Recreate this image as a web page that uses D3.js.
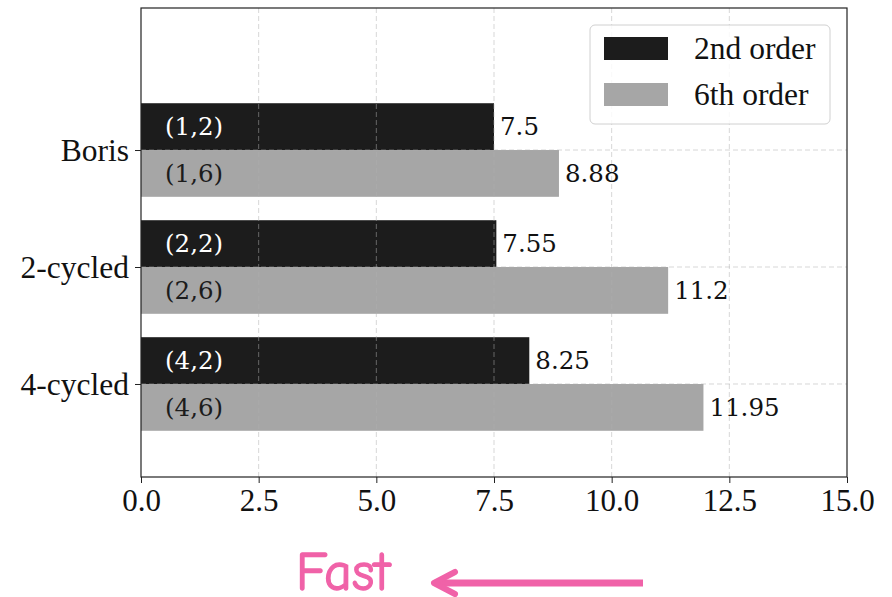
<!DOCTYPE html>
<html>
<head>
<meta charset="utf-8">
<script src="https://cdn.jsdelivr.net/npm/d3@7"></script>
<style>
  html, body { margin: 0; padding: 0; background: #fff; }
  svg { display: block; }
</style>
</head>
<body>
<svg id="chart" width="892" height="597"></svg>
<script>
// Speed-up factors per integrator and order
const categories = ["Boris", "2-cycled", "4-cycled"];
const seriesNames = ["2nd order", "6th order"];
const secondOrder = [7.5, 7.55, 8.25];
const sixthOrder = [8.88, 11.2, 11.95];
const secondTags = ["(1,2)", "(2,2)", "(4,2)"];
const sixthTags = ["(1,6)", "(2,6)", "(4,6)"];
const xTicks = [0, 2.5, 5, 7.5, 10, 12.5, 15];
const colors = ["#1c1c1c", "#a6a6a6"];

const svg = d3.select("#chart");
const plotL = 141, plotR = 847, plotT = 8, plotB = 477;
const serif = "'Liberation Serif', 'Times New Roman', serif";
const dejaSerif = "'DejaVu Serif', serif";

const x = d3.scaleLinear().domain([0, 15]).range([plotL, plotR]);
// category index -> vertical position (axis runs downward)
const y = d3.scaleLinear().domain([-1.214, 2.795]).range([plotT, plotB]);
const barH = 0.4;

const bars = [];
categories.forEach((c, i) => {
  bars.push({ i, s: 0, v: secondOrder[i], tag: secondTags[i] });
  bars.push({ i, s: 1, v: sixthOrder[i], tag: sixthTags[i] });
});

svg.append("g").selectAll("rect").data(bars).join("rect")
  .attr("x", x(0))
  .attr("y", d => y(d.i + (d.s === 0 ? -barH : 0)))
  .attr("width", d => x(d.v) - x(0))
  .attr("height", d => y(d.i + barH) - y(d.i))
  .attr("fill", d => colors[d.s]);

// dashed grid over the bars
const grid = svg.append("g")
  .attr("stroke", "#b0b0b0")
  .attr("stroke-opacity", 0.5)
  .attr("stroke-width", 1)
  .attr("stroke-dasharray", "5,3");
grid.selectAll("line.v").data(xTicks.slice(1, -1)).join("line")
  .attr("x1", d => x(d)).attr("x2", d => x(d))
  .attr("y1", plotT).attr("y2", plotB);
grid.selectAll("line.h").data(categories.map((c, i) => i)).join("line")
  .attr("x1", plotL).attr("x2", plotR)
  .attr("y1", d => y(d)).attr("y2", d => y(d));

// tags inside the bars
svg.append("g").selectAll("text").data(bars).join("text")
  .attr("x", x(0) + 24)
  .attr("y", d => y(d.i + (d.s === 0 ? -barH / 2 : barH / 2)))
  .attr("dy", "0.36em")
  .attr("font-family", dejaSerif)
  .attr("font-size", 24.5)
  .attr("fill", d => d.s === 0 ? "#ffffff" : "#1c1c1c")
  .text(d => d.tag);

// value labels
svg.append("g").selectAll("text").data(bars).join("text")
  .attr("x", d => x(d.v) + 6)
  .attr("y", d => y(d.i + (d.s === 0 ? -barH / 2 : barH / 2)))
  .attr("dy", "0.36em")
  .attr("font-family", dejaSerif)
  .attr("font-size", 24.5)
  .attr("fill", "#111")
  .text(d => d.v);

// frame
svg.append("rect")
  .attr("x", plotL).attr("y", plotT)
  .attr("width", plotR - plotL).attr("height", plotB - plotT)
  .attr("fill", "none").attr("stroke", "#222").attr("stroke-width", 1.2);

// x axis
const xAxis = d3.axisBottom(x).tickValues(xTicks).tickFormat(d3.format(".1f")).tickSizeOuter(0).tickSize(6);
const gx = svg.append("g").attr("transform", `translate(0,${plotB})`).call(xAxis);
gx.select(".domain").remove();
gx.selectAll("line").attr("stroke", "#222");
gx.selectAll("text")
  .attr("font-family", serif).attr("font-size", 31).attr("fill", "#111")
  .attr("y", 34).attr("dy", 0);

// y axis
const yAxis = d3.axisLeft(y).tickValues(categories.map((c, i) => i))
  .tickFormat(i => categories[i]).tickSize(6);
const gy = svg.append("g").attr("transform", `translate(${plotL},0)`).call(yAxis);
gy.select(".domain").remove();
gy.selectAll("line").attr("stroke", "#222");
gy.selectAll("text")
  .attr("font-family", serif).attr("font-size", 31.5).attr("fill", "#111")
  .attr("x", -12).attr("dy", "0.33em");

// legend
const lg = svg.append("g").attr("transform", "translate(590,25)");
lg.append("rect").attr("width", 240).attr("height", 99).attr("rx", 5)
  .attr("fill", "#fff").attr("fill-opacity", 0.85)
  .attr("stroke", "#d0d0d0").attr("stroke-width", 1);
seriesNames.forEach((n, s) => {
  lg.append("rect").attr("x", 14).attr("y", 12 + s * 46)
    .attr("width", 64).attr("height", 23).attr("fill", colors[s]);
  lg.append("text").attr("x", 104).attr("y", 24 + s * 46).attr("dy", "0.33em")
    .attr("font-family", serif).attr("font-size", 31.5).attr("fill", "#111")
    .text(n);
});

// "Fast" annotation with arrow
const pink = "#f062a8";
svg.append("text").attr("x", 296).attr("y", 590)
  .attr("font-family", "'Comic Sans MS', 'Comic Neue', 'DejaVu Sans', sans-serif")
  .attr("font-size", 54).attr("fill", pink)
  .attr("stroke", pink).attr("stroke-width", 1.3)
  .text("Fast");
const arrowY = 583;
svg.append("line").attr("x1", 436).attr("x2", 643).attr("y1", arrowY).attr("y2", arrowY)
  .attr("stroke", pink).attr("stroke-width", 7);
svg.append("path")
  .attr("d", `M${455},${arrowY - 11} L${434},${arrowY} L${455},${arrowY + 11}`)
  .attr("fill", "none").attr("stroke", pink).attr("stroke-width", 6)
  .attr("stroke-linecap", "round").attr("stroke-linejoin", "round");
</script>
</body>
</html>
